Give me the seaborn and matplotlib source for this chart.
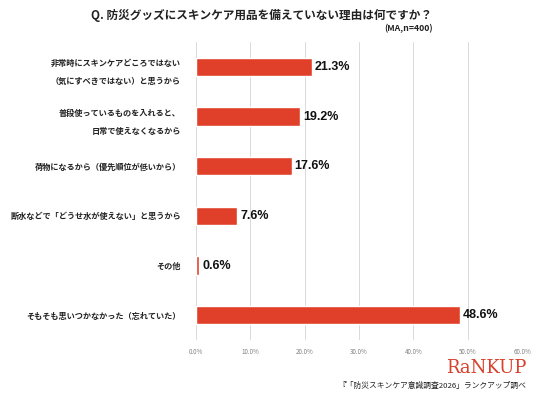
import matplotlib
matplotlib.use("Agg")
import matplotlib.pyplot as plt
import seaborn as sns
import pandas as pd

# data
reasons = [
    "非常時にスキンケアどころではない\n（気にすべきではない）と思うから",
    "普段使っているものを入れると、\n日常で使えなくなるから",
    "荷物になるから（優先順位が低いから）",
    "断水などで「どうせ水が使えない」と思うから",
    "その他",
    "そもそも思いつかなかった（忘れていた）",
]
percent = [21.3, 19.2, 17.6, 7.6, 0.6, 48.6]
x_ticks = [0, 10, 20, 30, 40, 50, 60]

sns.set_theme(style="white")
plt.rcParams['font.family'] = ['Noto Sans CJK JP', 'DejaVu Sans']

df = pd.DataFrame({"reason": reasons, "percent": percent})

fig = plt.figure(figsize=(5.36, 4.01), dpi=100)
ax = fig.add_axes([0.366, 0.152, 0.608, 0.743])

sns.barplot(data=df, y="reason", x="percent", orient="h", color="#E0402A",
            saturation=1, width=0.37, ax=ax, zorder=3)

ax.set_xlim(0, 60)
ax.set_xticks(x_ticks)
ax.set_xticklabels([f"{t:.1f}%" for t in x_ticks], fontsize=4.5, color="#808080")
ax.tick_params(axis="x", length=0, pad=6)
ax.tick_params(axis="y", length=0, pad=11)
for lbl in ax.get_yticklabels():
    lbl.set_fontsize(5.9)
    lbl.set_fontweight("bold")
    lbl.set_color("#222222")
    lbl.set_linespacing(2.3)
ax.set_xlabel("")
ax.set_ylabel("")
ax.grid(axis="x", color="#d9d9d9", linewidth=0.7, zorder=0)
for s in ax.spines.values():
    s.set_visible(False)

for i, v in enumerate(percent):
    ax.text(v + 0.5, i, f"{v}%", va="center", ha="left", fontsize=9,
            fontweight="bold", family="Liberation Sans", color="#111111")

fig.text(0.487, 0.962, "Q. 防災グッズにスキンケア用品を備えていない理由は何ですか？",
         ha="center", va="center", fontsize=8.4, fontweight="bold", color="#222222")
fig.text(0.807, 0.928, "(MA,n=400)", ha="right", va="center", fontsize=6.3,
         fontweight="bold", color="#222222")
fig.text(0.982, 0.082, "RaNKUP", ha="right", va="center", fontsize=13,
         family="DejaVu Serif", color="#D6402C")
fig.text(0.982, 0.038, "『「防災スキンケア意識調査2026」ランクアップ調べ", ha="right",
         va="center", fontsize=5.6, color="#222222")

fig.savefig("out.png", dpi=100)
